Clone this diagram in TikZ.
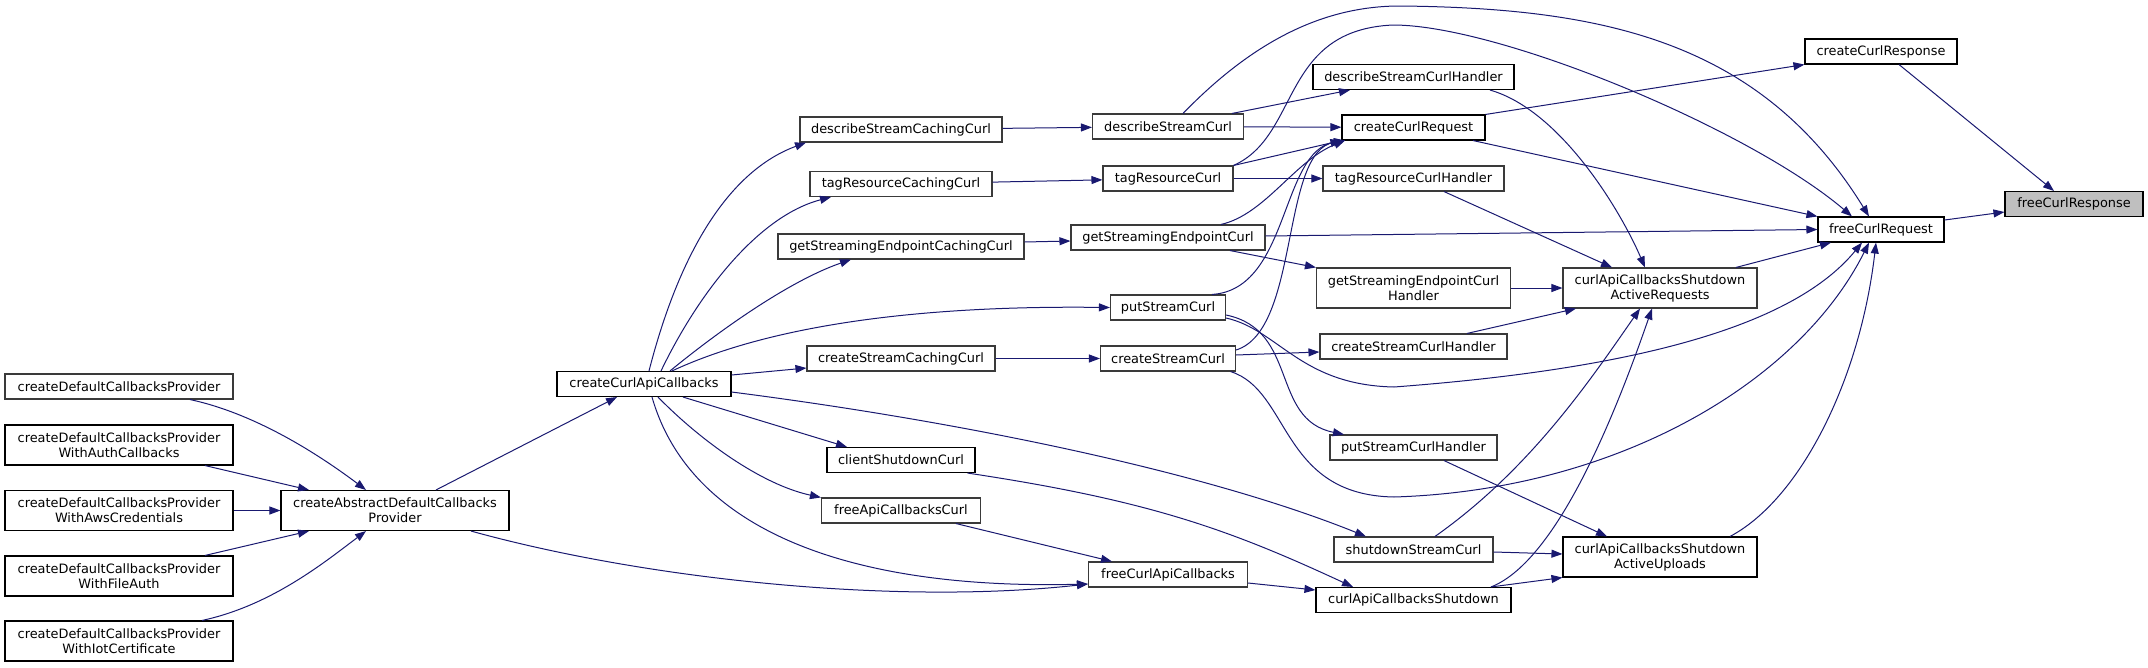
\documentclass[tikz,border=0pt]{standalone}
\usepackage{fontspec}
\setmainfont{DejaVu Sans}
\usetikzlibrary{arrows.meta}
\definecolor{cedge}{HTML}{191970}
\definecolor{cframe}{HTML}{3A3A3A}
\definecolor{croot}{HTML}{BFBFBF}
\tikzset{
  every picture/.style={line width=1pt},
  fn/.style={draw=#1, fill=white, line width=1.1pt, align=center, inner sep=0pt, minimum height=25pt, font=\fontsize{12.9}{15}\selectfont},
  fn/.default=black,
  tall/.style={minimum height=40pt},
  root/.style={fn, fill=croot},
  calls/.style={-{Triangle[length=11pt, width=8pt]}, draw=cedge, line width=1pt},
}
\begin{document}
\begin{tikzpicture}[x=1pt, y=-1pt]
  \useasboundingbox (0,0) rectangle (2148,667);
  % callers of the callbacks provider
  \node[fn=cframe, minimum width=228pt] (cdp) at (119,386.5) {createDefaultCallbacksProvider};
  \node[fn, tall, minimum width=228pt] (cdpauth) at (119,445) {createDefaultCallbacksProvider\\WithAuthCallbacks};
  \node[fn, tall, minimum width=228pt] (cdpaws) at (119,510.5) {createDefaultCallbacksProvider\\WithAwsCredentials};
  \node[fn, tall, minimum width=228pt] (cdpfile) at (119,576) {createDefaultCallbacksProvider\\WithFileAuth};
  \node[fn, tall, minimum width=228pt] (cdpiot) at (119,641) {createDefaultCallbacksProvider\\WithIotCertificate};
  \node[fn, tall, minimum width=228pt] (cadp) at (395,510.5) {createAbstractDefaultCallbacks\\Provider};
  \node[fn, minimum width=174pt] (ccac) at (644,384) {createCurlApiCallbacks};
  % caching wrappers
  \node[fn=cframe, minimum width=202pt] (dscc) at (901,129.5) {describeStreamCachingCurl};
  \node[fn=cframe, minimum width=182pt] (trcc) at (901,184) {tagResourceCachingCurl};
  \node[fn=cframe, minimum width=246pt] (secc) at (901,246.5) {getStreamingEndpointCachingCurl};
  \node[fn=cframe, minimum width=188pt] (scc) at (901,358.5) {createStreamCachingCurl};
  \node[fn, minimum width=148pt] (csc) at (901,460) {clientShutdownCurl};
  \node[fn=cframe, minimum width=159pt] (facc) at (901,510.5) {freeApiCallbacksCurl};
  % curl calls
  \node[fn=cframe, minimum width=151pt] (dsc) at (1168,126.5) {describeStreamCurl};
  \node[fn=cframe, minimum width=130pt] (trc) at (1168,178.5) {tagResourceCurl};
  \node[fn=cframe, minimum width=194pt] (sec) at (1168,237.5) {getStreamingEndpointCurl};
  \node[fn=cframe, minimum width=115pt] (psc) at (1168,307.5) {putStreamCurl};
  \node[fn=cframe, minimum width=135pt] (crsc) at (1168,358.5) {createStreamCurl};
  \node[fn=cframe, minimum width=159pt] (fcac) at (1168,574.5) {freeCurlApiCallbacks};
  % handlers
  \node[fn, minimum width=201pt] (dsch) at (1413.5,77) {describeStreamCurlHandler};
  \node[fn, minimum width=143pt] (ccrq) at (1413.5,127.5) {createCurlRequest};
  \node[fn=cframe, minimum width=181pt] (trch) at (1413.5,178.5) {tagResourceCurlHandler};
  \node[fn=cframe, tall, minimum width=194pt] (sech) at (1413.5,288) {getStreamingEndpointCurl\\Handler};
  \node[fn=cframe, minimum width=187pt] (crsch) at (1413.5,346.5) {createStreamCurlHandler};
  \node[fn=cframe, minimum width=167pt] (psch) at (1413.5,447.5) {putStreamCurlHandler};
  \node[fn=cframe, minimum width=159pt] (ssc) at (1413.5,549.5) {shutdownStreamCurl};
  \node[fn, minimum width=195pt] (cacs) at (1413.5,600) {curlApiCallbacksShutdown};
  \node[fn=cframe, tall, minimum width=194pt] (areq) at (1660,288) {curlApiCallbacksShutdown\\ActiveRequests};
  \node[fn, tall, minimum width=194pt] (aupl) at (1660,557) {curlApiCallbacksShutdown\\ActiveUploads};
  \node[fn, minimum width=152pt] (ccrsp) at (1881,51.5) {createCurlResponse};
  \node[fn, minimum width=126pt] (fcrq) at (1881,229.5) {freeCurlRequest};
  \node[root, minimum width=138pt] (fcrsp) at (2074,204) {freeCurlResponse};
  % bends of the long edges
  \coordinate (dsctop) at (1400,6);
  \coordinate (trctop) at (1393,25);
  \coordinate (pscdip) at (1394,387);
  \coordinate (crscdip) at (1394,497);

  \draw[calls] ([xshift=71pt]cdp.south) .. controls +(70,15) and +(-40,-30) .. ([xshift=-29pt]cadp.north);
  \draw[calls] ([xshift=86pt]cdpauth.south) -- ([xshift=-86pt]cadp.north);
  \draw[calls] (cdpaws) -- (cadp);
  \draw[calls] ([xshift=86pt]cdpfile.north) -- ([xshift=-86pt]cadp.south);
  \draw[calls] ([xshift=83pt]cdpiot.north) .. controls +(70,-15) and +(-40,30) .. ([xshift=-29pt]cadp.south);
  \draw[calls] ([xshift=41pt]cadp.north) -- ([xshift=-27pt]ccac.south);
  \draw[calls] ([xshift=76pt]cadp.south) .. controls +(179,49.5) and +(-188.5,21) .. ([yshift=-9.5pt]fcac.west);

  \draw[calls] ([xshift=5pt]ccac.north) .. controls +(31,-121) and +(-76,28) .. ([xshift=-95pt]dscc.south);
  \draw[calls] ([xshift=17pt]ccac.north) .. controls +(39,-81) and +(-71,18.5) .. ([xshift=-70pt]trcc.south);
  \draw[calls] ([xshift=26pt]ccac.north) .. controls +(50,-41) and +(-61,21) .. ([xshift=-50pt]secc.south);
  \draw[calls] ([xshift=28pt]ccac.north) .. controls +(88,-41) and +(-210.5,-2.5) .. (psc.west);
  \draw[calls] ([yshift=9pt]ccac.east) -- ([yshift=-9.5pt]scc.west);
  \draw[calls] ([yshift=-8pt]ccac.east) .. controls +(219,28) and +(-166,-67) .. ([xshift=-47.5pt]ssc.north);
  \draw[calls] ([xshift=39pt]ccac.south) -- ([xshift=-54pt]csc.north);
  \draw[calls] ([xshift=14pt]ccac.south) .. controls +(42,43) and +(-60,-13) .. (facc.north west);
  \draw[calls] ([xshift=8pt]ccac.south) .. controls +(38,133) and +(-238.5,6) .. ([yshift=-9.5pt]fcac.west);

  \draw[calls] (dscc) -- (dsc);
  \draw[calls] (trcc) -- (trc);
  \draw[calls] ([yshift=4.5pt]secc.east) -- ([yshift=-3.5pt]sec.west);
  \draw[calls] (scc) -- (crsc);
  \draw[calls] ([xshift=-8pt]csc.south east) .. controls +(183,27.5) and +(-123,-57) .. ([xshift=-60.5pt]cacs.north);
  \draw[calls] ([xshift=55pt]facc.south) -- ([xshift=-56pt]fcac.north);
  \draw[calls] ([yshift=-8.5pt]fcac.east) -- ([yshift=10pt]cacs.west);

  \draw[calls] ([xshift=64pt]dsc.north) -- ([xshift=-63.5pt]dsch.south);
  \draw[calls] (dsc) -- (ccrq);
  \draw[calls] ([xshift=15pt]dsc.north) .. controls +(67,-69) and +(-80,0) .. (dsctop) .. controls +(200,2) and +(-109,-177) .. ([xshift=-12pt]fcrq.north);
  \draw[calls] (trc.north east) -- (ccrq.south west);
  \draw[calls] (trc) -- (trch);
  \draw[calls] (trc.north east) .. controls +(67,-30) and +(-113,5) .. (trctop) .. controls +(107,0) and +(-102,-87) .. ([xshift=-29pt]fcrq.north);
  \draw[calls] ([xshift=53pt]sec.north) .. controls +(44,-10) and +(-50,20) .. ([xshift=-68.5pt]ccrq.south);
  \draw[calls] ([yshift=1.5pt]sec.east) -- (fcrq.west);
  \draw[calls] ([xshift=62pt]sec.south) -- (sech.north west);
  \draw[calls] ([xshift=44pt]psc.north) .. controls +(78,-5) and +(-65,10) .. ([xshift=-68.5pt]ccrq.south);
  \draw[calls] ([yshift=-7.5pt]psc.east) .. controls +(73,15) and +(-74,-15) .. ([xshift=-69.5pt]psch.north);
  \draw[calls] ([yshift=-10.5pt]psc.east) .. controls +(53,12) and +(-94,-2) .. (pscdip) .. controls +(226,-17) and +(-72,88) .. ([xshift=-19pt]fcrq.south);
  \draw[calls] ([yshift=8.5pt]crsc.east) .. controls +(64.5,-20) and +(-65,10) .. ([xshift=-68.5pt]ccrq.south);
  \draw[calls] ([yshift=3.5pt]crsc.east) -- ([yshift=-5.5pt]crsch.west);
  \draw[calls] ([xshift=-5.5pt]crsc.south east) .. controls +(60,19) and +(-114,-2) .. (crscdip) .. controls +(226,-7) and +(-69,138) .. ([xshift=-12pt]fcrq.south);

  \draw[calls] (ccrq.north east) -- (ccrsp.south west);
  \draw[calls] ([xshift=59.5pt]ccrq.south) -- (fcrq.north west);
  \draw[calls] ([xshift=76.5pt]dsch.south) .. controls +(70,20) and +(-25,-58) .. ([xshift=-15pt]areq.north);
  \draw[calls] ([xshift=30.5pt]trch.south) -- ([xshift=-48pt]areq.north);
  \draw[calls] (sech) -- (areq);
  \draw[calls] ([xshift=53.5pt]crsch.north) -- ([xshift=-84pt]areq.south);
  \draw[calls] ([xshift=30.5pt]psch.south) -- ([xshift=-53pt]aupl.north);
  \draw[calls] ([xshift=21.5pt]ssc.north) .. controls +(95,-67) and +(-50,72) .. ([xshift=-20pt]areq.south);
  \draw[calls] ([yshift=-2.5pt]ssc.east) -- ([yshift=3pt]aupl.west);
  \draw[calls] ([xshift=77.5pt]cacs.north) .. controls +(69,-27) and +(-32,92) .. ([xshift=-8pt]areq.south);
  \draw[calls] ([xshift=77.5pt]cacs.north) -- (aupl.south west);

  \draw[calls] ([xshift=76pt]areq.north) -- ([xshift=-50pt]fcrq.south);
  \draw[calls] ([xshift=70pt]aupl.north) .. controls +(70,-37) and +(-16,138) .. ([xshift=-5pt]fcrq.south);
  \draw[calls] ([yshift=9.5pt]fcrq.east) -- ([yshift=-8pt]fcrsp.west);
  \draw[calls] ([xshift=18pt]ccrsp.south) -- ([xshift=-20pt]fcrsp.north);
\end{tikzpicture}
\end{document}
